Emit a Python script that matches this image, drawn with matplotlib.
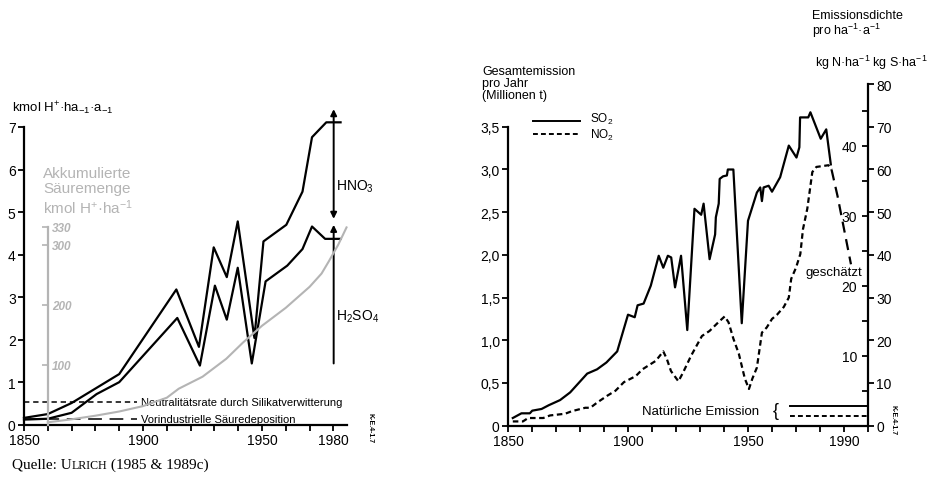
import matplotlib

matplotlib.use("Agg")
import matplotlib.pyplot as plt
from matplotlib.lines import Line2D

plt.rcParams["font.family"] = ["Liberation Sans", "DejaVu Sans"]
plt.rcParams["mathtext.default"] = "regular"

W, H = 933, 485
GREY = "#b4b4b4"

# ---- left panel: acid deposition (kmol H+ per ha and year)
tot_years = [1850, 1860, 1870, 1890, 1914, 1923.5, 1929.7, 1935.2, 1939.8,
             1946.8, 1950.6, 1960.2, 1967, 1971, 1977, 1983]
tot_vals = [0.16, 0.25, 0.51, 1.19, 3.18, 1.83, 4.17, 3.47, 4.78,
            2.04, 4.31, 4.70, 5.48, 6.76, 7.11, 7.11]
h2so4_years = [1850, 1860, 1870, 1880.5, 1890, 1914.4, 1923.9, 1930.2, 1935.2,
               1939.8, 1945.7, 1951.5, 1960.6, 1967, 1971, 1976.5, 1983]
h2so4_vals = [0.12, 0.14, 0.28, 0.72, 1.0, 2.51, 1.39, 3.27, 2.47,
              3.69, 1.44, 3.37, 3.74, 4.13, 4.66, 4.37, 4.37]
acc_years = [1860, 1870, 1880, 1890, 1900, 1910, 1915, 1925, 1935, 1942,
             1950, 1960, 1970, 1975, 1978, 1982, 1985.5]
acc_vals = [4, 9, 15, 22, 31, 45, 60, 80, 110, 137,
            165, 195, 230, 252, 272, 300, 329]
neutral_rate = 0.54
preind_dep = 0.13

# ---- right panel: emissions (Mt per year)
so2_years = [1852, 1855.6, 1859.1, 1860.1, 1864, 1867, 1871.7, 1875.9, 1883,
             1887.1, 1891, 1895.5, 1900, 1902.8, 1904, 1906.5, 1909.5, 1912.8,
             1914.7, 1916.6, 1918, 1919.6, 1922.1, 1924.7, 1927.7, 1930.5,
             1931.5, 1934, 1936.3, 1936.6, 1937.8, 1938.2, 1939.6, 1941.2,
             1941.6, 1943.9, 1947.4, 1950.0, 1953.7, 1955.1, 1955.8, 1956.5,
             1958.6, 1960, 1963.4, 1967, 1970.2, 1971.4, 1971.7, 1975.1, 1976,
             1980.3, 1982.6, 1984.5]
so2_vals = [0.09, 0.145, 0.145, 0.176, 0.196, 0.24, 0.30, 0.39, 0.61,
            0.66, 0.74, 0.87, 1.30, 1.27, 1.41, 1.43, 1.64, 1.99,
            1.85, 1.99, 1.97, 1.62, 1.99, 1.12, 2.54, 2.47,
            2.60, 1.95, 2.24, 2.44, 2.60, 2.89, 2.92, 2.93,
            3.00, 3.00, 1.20, 2.40, 2.73, 2.79, 2.63, 2.79,
            2.81, 2.74, 2.91, 3.28, 3.14, 3.26, 3.61, 3.61, 3.67,
            3.36, 3.47, 3.06]
no2_years = [1852, 1856.2, 1858.4, 1864.7, 1867.5, 1873.8, 1876.6, 1882.2,
             1884.3, 1887.1, 1891.3, 1894.8, 1898.3, 1903.2, 1906, 1908.8,
             1911.6, 1914.7, 1916.2, 1917.9, 1921, 1922.9, 1926.3, 1930.8,
             1934, 1937.6, 1940.3, 1941.9, 1943.9, 1946.2, 1948.7, 1950.4,
             1951.8, 1953.7, 1955.8, 1957.8, 1960, 1962.1, 1964.9, 1967, 1968,
             1970, 1971.8, 1972.9, 1974.7, 1976.8, 1978.5, 1983.5, 1984.8]
no2_vals = [0.05, 0.05, 0.09, 0.09, 0.12, 0.14, 0.17, 0.21,
            0.21, 0.27, 0.35, 0.41, 0.51, 0.58, 0.66, 0.71,
            0.76, 0.87, 0.78, 0.64, 0.52, 0.62, 0.82, 1.05,
            1.11, 1.21, 1.28, 1.21, 1.02, 0.84, 0.55, 0.43,
            0.55, 0.68, 1.09, 1.15, 1.25, 1.30, 1.39, 1.50, 1.72,
            1.85, 2.01, 2.30, 2.54, 2.97, 3.03, 3.05, 3.00]
no2_est_years = [1984.8, 1987.3, 1992.9]
no2_est_vals = [3.00, 2.69, 1.89]
natural_so2 = 0.234
natural_no2 = 0.117

S_PER_MT = 20.0       # kg S/ha per Mt (right outer scale)
N_PER_MT = 1 / 0.082  # kg N/ha per Mt (right inner scale)
ACC_PER_UNIT = 1 / 0.0141

fig = plt.figure(figsize=(W / 100, H / 100), dpi=100)


def px_axes(x0, x1, ytop, ybot):
    return fig.add_axes([x0 / W, 1 - ybot / H, (x1 - x0) / W, (ybot - ytop) / H])


def ftext(x, y, s, **kw):
    return fig.text(x / W, 1 - y / H, s, **kw)


def style_axis(a):
    for side in ("top", "right"):
        a.spines[side].set_visible(False)
    for side in ("left", "bottom"):
        a.spines[side].set_linewidth(1.6)
    a.tick_params(direction="out", length=4, width=1.3, labelsize=10, pad=2)
    a.patch.set_alpha(0)


# ================= left panel
ax = px_axes(24, 347, 128, 425.7)
style_axis(ax)
ax.set_xlim(1850, 1985.7)
ax.set_ylim(0, 7)
ax.set_xticks(list(range(1850, 1990, 10)))
ax.set_xticklabels([str(y) if y in (1850, 1900, 1950, 1980) else ""
                    for y in range(1850, 1990, 10)])
ax.set_yticks(range(0, 8))

# accumulated acid (grey, own scale)
axg = ax.twinx()
axg.set_ylim(0, 7 * ACC_PER_UNIT)
for side in ("top", "left", "bottom"):
    axg.spines[side].set_visible(False)
axg.spines["right"].set_position(("data", 1860))
axg.spines["right"].set_bounds(0, 330)
axg.spines["right"].set_color(GREY)
axg.spines["right"].set_linewidth(1.6)
axg.set_yticks([100, 200, 300, 330])
axg.tick_params(axis="y", direction="in", length=4, width=1.2, color=GREY,
                labelcolor=GREY, labelsize=8.5, pad=3)
for lab in axg.get_yticklabels():
    lab.set_fontstyle("italic")
    lab.set_fontweight("bold")
axg.plot(acc_years, acc_vals, color=GREY, lw=1.5, clip_on=False)

ax.plot(tot_years, tot_vals, color="black", lw=1.6, clip_on=False, zorder=3)
ax.plot(h2so4_years, h2so4_vals, color="black", lw=1.6, clip_on=False, zorder=3)

ax.plot([1850, 1897.5], [neutral_rate] * 2, color="black", lw=1.1,
        dashes=(3.5, 2.5))
ax.plot([1850, 1897.5], [preind_dep] * 2, color="black", lw=1.1,
        dashes=(9, 5))
ax.text(1899.2, neutral_rate, "Neutralitätsrate durch Silikatverwitterung",
        fontsize=8, va="center", ha="left")
ax.text(1899.2, preind_dep, "Vorindustrielle Säuredeposition",
        fontsize=8, va="center", ha="left")

ax.annotate("", xy=(1980.1, 7.42), xytext=(1980.1, 4.84),
            arrowprops=dict(arrowstyle="<|-|>", color="black", lw=1.4,
                            mutation_scale=9, shrinkA=0, shrinkB=0),
            annotation_clip=False)
ax.annotate("", xy=(1980.1, 4.70), xytext=(1980.1, 1.44),
            arrowprops=dict(arrowstyle="-|>", color="black", lw=1.4,
                            mutation_scale=9, shrinkA=0, shrinkB=0),
            annotation_clip=False)
ax.text(1981.2, 5.62, "HNO$_3$", fontsize=10, va="center", ha="left")
ax.text(1981.2, 2.56, "H$_2$SO$_4$", fontsize=10, va="center", ha="left")

ftext(12, 108, "kmol H$^{+}$·ha$_{-1}$·a$_{-1}$", fontsize=9.5, va="center")
ftext(43, 192, "Akkumulierte\nSäuremenge\nkmol H$^{+}$·ha$^{-1}$", fontsize=11,
      color=GREY, va="center", linespacing=1.1)

# ================= right panel
axr = px_axes(508, 868, 85.1, 426.7)
style_axis(axr)
axr.set_xlim(1850, 2000)
axr.set_ylim(0, 4.0)
axr.spines["left"].set_bounds(0, 3.5)
axr.set_xticks(list(range(1850, 2010, 10)))
axr.set_xticklabels([str(y) if y in (1850, 1900, 1950, 1990) else ""
                     for y in range(1850, 2010, 10)])
mt_ticks = [0, 0.5, 1.0, 1.5, 2.0, 2.5, 3.0, 3.5]
axr.set_yticks(mt_ticks)
axr.set_yticklabels(["0"] + [f"{v:.1f}".replace(".", ",") for v in mt_ticks[1:]])

ax2 = axr.twinx()
ax2.set_ylim(0, 4.0 * S_PER_MT)
for side in ("top", "left", "bottom"):
    ax2.spines[side].set_visible(False)
ax2.spines["right"].set_linewidth(1.6)
ax2.set_yticks(range(0, 90, 10))
ax2.tick_params(axis="y", direction="out", length=4, width=1.3,
                labelsize=10, pad=2)

ax3 = axr.twinx()
ax3.set_ylim(0, 4.0 * N_PER_MT)
for side in ("top", "left", "bottom", "right"):
    ax3.spines[side].set_visible(False)
ax3.set_yticks([10, 20, 30, 40])
ax3.set_yticks([5, 15, 25, 35, 45], minor=True)
ax3.tick_params(axis="y", which="both", direction="in", length=4, width=1.3,
                labelsize=10, pad=-8)
ax3.tick_params(axis="y", which="minor", labelright=False)
for lab in ax3.get_yticklabels():
    lab.set_horizontalalignment("right")

axr.plot(so2_years, so2_vals, color="black", lw=1.6, zorder=3)
axr.plot(no2_years, no2_vals, color="black", lw=1.6, dashes=(2.5, 1.6), zorder=3)
axr.plot(no2_est_years, no2_est_vals, color="black", lw=1.6, dashes=(5, 3),
         zorder=3)
axr.plot([1967.4, 2000], [natural_so2] * 2, color="black", lw=1.4, clip_on=False)
axr.plot([1967.4, 2000], [natural_no2] * 2, color="black", lw=1.4,
         dashes=(2.5, 1.6), clip_on=False)
axr.text(1905.7, 0.176, "Natürliche Emission", fontsize=9.5, va="center")
axr.text(1961.5, 0.176, "{", fontsize=13, va="center", ha="center")
axr.text(1973.8, 1.80, "geschätzt", fontsize=9.5, va="center", ha="left")

# legend
fig.add_artist(Line2D([533 / W, 580 / W], [1 - 122 / H] * 2, color="black", lw=1.4))
fig.add_artist(Line2D([533 / W, 580 / W], [1 - 135 / H] * 2, color="black", lw=1.4,
                      dashes=(2.5, 1.6)))
ftext(590, 119, "SO$_2$", fontsize=8.5, va="center")
ftext(590, 135, "NO$_2$", fontsize=8.5, va="center")

ftext(482, 84, "Gesamtemission\npro Jahr\n(Millionen t)", fontsize=9,
      va="center", linespacing=1.0)
ftext(812, 25, "Emissionsdichte\npro ha$^{-1}$·a$^{-1}$", fontsize=9,
      va="center", linespacing=1.0)
ftext(815, 63, "kg N·ha$^{-1}$ kg S·ha$^{-1}$", fontsize=9, va="center")

# archive stamps
ftext(370, 428, "K-E.4-1.7", fontsize=5, fontweight="bold", rotation=270,
      ha="center", va="center")
ftext(893, 420, "K-E.4-1.7", fontsize=5, fontweight="bold", rotation=270,
      ha="center", va="center")

# source line with small caps
t1 = ftext(12, 472, "Quelle: U", fontsize=11, family="Liberation Serif",
           va="bottom")
t2 = plt.annotate("LRICH", xy=(1, 0), xycoords=t1, xytext=(0, 0),
                  textcoords="offset points", fontsize=8.6,
                  family="Liberation Serif", va="bottom")
plt.annotate(" (1985 & 1989c)", xy=(1, 0), xycoords=t2, xytext=(0, 0),
             textcoords="offset points", fontsize=11,
             family="Liberation Serif", va="bottom")

fig.savefig("out.png", dpi=100, facecolor="white")
